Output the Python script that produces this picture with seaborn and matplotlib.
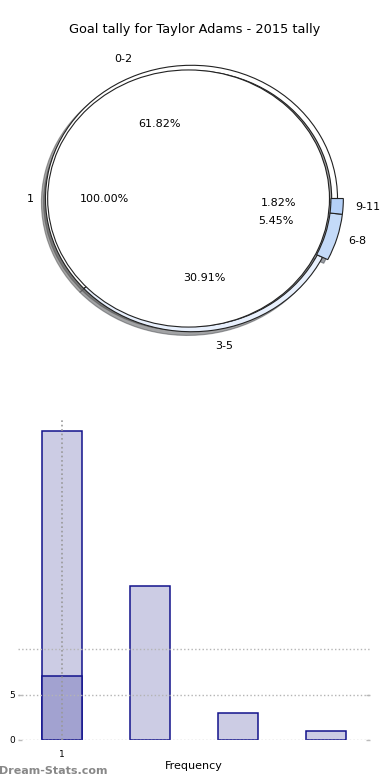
import matplotlib
matplotlib.use("Agg")
import matplotlib.pyplot as plt
import seaborn as sns
import pandas as pd

sns.set_theme(style="white")
plt.rcParams['font.family'] = ['DejaVu Sans']
plt.rcParams['text.color'] = 'black'
plt.rcParams['axes.labelcolor'] = 'black'
plt.rcParams['xtick.color'] = 'black'
plt.rcParams['ytick.color'] = 'black'

# ---- data ----
title = "Goal tally for Taylor Adams - 2015 tally"
inner_labels = ["1"]
inner_values = [55]
outer_labels = ["0-2", "3-5", "6-8", "9-11"]
outer_values = [34, 17, 3, 1]
outer_colors = ["#ffffff", "#e8f0fd", "#c4daf8", "#b4d0f8"]
bar_categories = ["0-2", "3-5", "6-8", "9-11"]
bar_values = [34, 17, 3, 1]
overlay_category = ["0-2"]
overlay_values = [7]
xtick_label = "1"
ytick_values = [0, 5]
hgrid_values = [0, 5, 10]

fig = plt.figure(figsize=(3.9, 7.8), dpi=100)
fig.text(0.5, 0.962, title, ha="center", va="center", fontsize=9.3)

# ---- pie ----
axp = fig.add_axes([0.023, 0.532, 0.936, 0.427])
w_out, t_out, a_out = axp.pie(outer_values, labels=outer_labels, radius=1.0,
                              startangle=0, colors=outer_colors, autopct="%.2f%%",
                              pctdistance=0.6, labeldistance=1.12, shadow=True,
                              wedgeprops=dict(width=0.04, edgecolor="#222222", linewidth=0.8),
                              textprops=dict(fontsize=8, color="black"))
for i in (2, 3):
    w_out[i].set_radius(1.04)
    w_out[i].set_width(0.085)
w_in, t_in, a_in = axp.pie(inner_values, labels=inner_labels, radius=0.965, explode=[0.02],
                           startangle=0, colors=["#ffffff"], autopct="%.2f%%",
                           pctdistance=0.6, labeldistance=1.1, shadow=True,
                           wedgeprops=dict(edgecolor="#222222", linewidth=0.8),
                           textprops=dict(fontsize=8, color="black"))
for w in w_in:
    w.set_zorder(1.5)
axp.set_aspect("auto")
axp.set_xlim(-1.25, 1.25)
axp.set_ylim(-1.25, 1.25)
axp.axis("off")

# ---- bars ----
axb = fig.add_axes([0.046, 0.0513, 0.903, 0.41])
df = pd.DataFrame({"cat": bar_categories, "val": bar_values})
sns.barplot(data=df, x="cat", y="val", order=bar_categories, width=0.45,
            color="#ccccE4", saturation=1, edgecolor="#12128c", linewidth=1.1, ax=axb)
df2 = pd.DataFrame({"cat": overlay_category, "val": overlay_values})
sns.barplot(data=df2, x="cat", y="val", order=bar_categories, width=0.45,
            color="#a2a2d0", saturation=1, edgecolor="#12128c", linewidth=1.1, ax=axb)
axb.set_xlim(-0.5, 3.5)
axb.set_ylim(0, 35.2)
axb.set_yticks(ytick_values)
axb.set_yticklabels([str(v) for v in ytick_values], fontsize=6.5)
axb.set_xticks([0])
axb.set_xticklabels([xtick_label], fontsize=6.5)
axb.tick_params(axis="y", left=True, right=True, direction="in", length=3,
                color="#bbbbbb", labelcolor="black", pad=2, width=1)
axb.tick_params(axis="x", bottom=False, pad=1)
axb.grid(False)
for v in hgrid_values:
    axb.axhline(v, linestyle=":", color="#b4b4b4", linewidth=1, zorder=5)
for xt in axb.get_xticks():
    axb.axvline(xt, linestyle=":", color="#999999", linewidth=1.2, zorder=5)
for s in axb.spines.values():
    s.set_visible(False)
axb.set_xlabel("Frequency", fontsize=8, labelpad=2)
axb.set_ylabel("")

fig.text(-0.002, 0.012, "Dream-Stats.com", ha="left", va="center", fontsize=8,
         color="#888888", fontweight="semibold")

fig.savefig("out.png", dpi=100)
